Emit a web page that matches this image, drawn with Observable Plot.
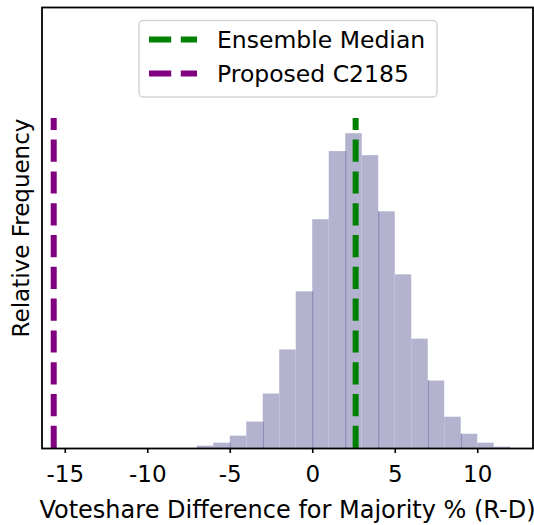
<!DOCTYPE html>
<html><head><meta charset="utf-8">
<script src="https://cdn.jsdelivr.net/npm/d3@7"></script>
<script src="https://cdn.jsdelivr.net/npm/@observablehq/plot@0.6"></script>
<style>
body{margin:0;background:#fff;}
#wrap{position:relative;width:534px;height:525px;font-family:"DejaVu Sans",sans-serif;}
#legend{position:absolute;left:0;top:0;}
</style></head><body><div id="wrap"></div>
<script>
// Histogram bins (start of each 1-unit bin) and relative frequencies
const binStarts = [-7,-6,-5,-4,-3,-2,-1,0,1,2,3,4,5,6,7,8,9,10,11];
const freqs = [0.0011,0.0025,0.0058,0.0124,0.0256,0.0463,0.0736,0.1075,0.1395,0.1479,0.1376,0.1112,0.0816,0.0514,0.0317,0.0147,0.0067,0.0025,0.0006];
const binWidth = 1;
// bin edges where overlapping bar outlines are visible
const edgeLines = [-5,-3,0,2,4,7,9];
const refNames = ["Ensemble Median","Proposed C2185"];
const refValues = [2.6,-15.7];
const refColors = ["#008000","#800080"];
const refLineTop = 0.155;
const xTicks = [-15,-10,-5,0,5,10];
const xDomain = [-16.41, 13.35];
const yDomain = [0, 0.2072];
const xLabel = "Voteshare Difference for Majority % (R-D)";
const yLabel = "Relative Frequency";

const bars = binStarts.map((s,i)=>({x1:s, x2:s+binWidth, f:freqs[i]}));
const edges = edgeLines.map(e=>{
  const iL = binStarts.indexOf(e-binWidth), iR = binStarts.indexOf(e);
  return {x:e, h:Math.min(freqs[iL] ?? 0, freqs[iR] ?? 0)};
});
const refs = refNames.map((n,i)=>({name:n, x:refValues[i], color:refColors[i]}));

const chart = Plot.plot({
  width:534, height:525,
  marginLeft:41.5, marginRight:1.5, marginTop:7, marginBottom:77,
  style:{fontFamily:"DejaVu Sans, sans-serif", fontSize:"23px", color:"black", background:"white"},
  x:{domain:xDomain},
  y:{domain:yDomain},
  marks:[
    Plot.rect(bars, {x1:"x1", x2:"x2", y1:0, y2:"f", fill:"#b3b3cf", inset:0}),
    Plot.ruleX(edges, {x:"x", y1:0, y2:"h", stroke:"#8282b2", strokeWidth:1}),
    Plot.ruleX(refs, {x:"x", y1:0, y2:refLineTop, stroke:"color", strokeWidth:6, strokeDasharray:"22.2,9.6", strokeLinecap:"butt"}),
    Plot.axisX({ticks:xTicks, tickFormat:d=>String(d), tickSize:5, tickPadding:12.5, strokeWidth:1.6, stroke:"black", fill:"black",
      label:null}),
    Plot.axisX({ticks:[], label:xLabel, labelAnchor:"center", labelOffset:69, labelArrow:"none", fill:"black", fontSize:24}),
    Plot.axisY({ticks:[], label:yLabel, labelAnchor:"center", labelOffset:29.5, labelArrow:"none", fill:"black"}),
    Plot.frame({stroke:"black", strokeWidth:1.8})
  ]
});
const wrap = document.getElementById("wrap");
wrap.appendChild(chart);

// legend overlay
const ns = "http://www.w3.org/2000/svg";
const lg = document.createElementNS(ns,"svg");
lg.setAttribute("id","legend");
lg.setAttribute("width","534"); lg.setAttribute("height","120");
const rect = document.createElementNS(ns,"rect");
Object.entries({x:139,y:20.5,width:298,height:76.5,rx:4,fill:"white","fill-opacity":0.8,stroke:"#d4d4d4","stroke-width":1.5}).forEach(([k,v])=>rect.setAttribute(k,v));
lg.appendChild(rect);
refs.forEach((r,i)=>{
  const cy = 39.5 + i*34;
  const ln = document.createElementNS(ns,"line");
  Object.entries({x1:149,x2:197,y1:cy,y2:cy,stroke:r.color,"stroke-width":6,"stroke-dasharray":"22.2,9.6"}).forEach(([k,v])=>ln.setAttribute(k,v));
  lg.appendChild(ln);
  const t = document.createElementNS(ns,"text");
  t.setAttribute("x",217); t.setAttribute("y",cy+8.2);
  t.setAttribute("font-size","23.5px"); t.setAttribute("font-family","DejaVu Sans, sans-serif");
  t.textContent = r.name;
  lg.appendChild(t);
});
wrap.appendChild(lg);
</script>
</body></html>
